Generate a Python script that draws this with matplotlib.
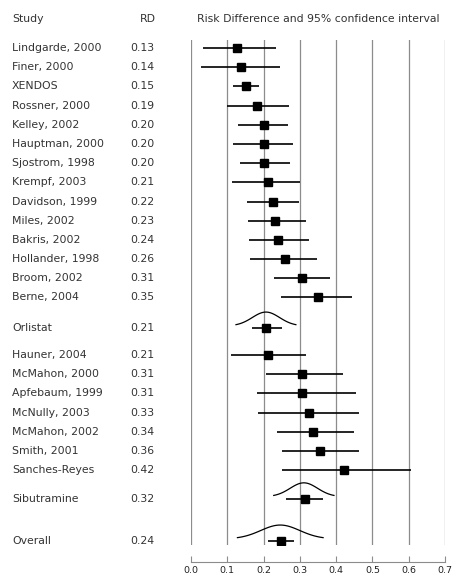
import matplotlib
matplotlib.use("Agg")
import matplotlib.pyplot as plt
import matplotlib.transforms as mtrans
import numpy as np

# orlistat trials
orl_names = ["Lindgarde, 2000", "Finer, 2000", "XENDOS", "Rossner, 2000", "Kelley, 2002",
             "Hauptman, 2000", "Sjostrom, 1998", "Krempf, 2003", "Davidson, 1999",
             "Miles, 2002", "Bakris, 2002", "Hollander, 1998", "Broom, 2002", "Berne, 2004"]
orl_rd = [0.128, 0.139, 0.151, 0.183, 0.201, 0.200, 0.200, 0.211, 0.225, 0.232, 0.239, 0.258, 0.307, 0.349]
orl_lo = [0.034, 0.028, 0.117, 0.100, 0.129, 0.117, 0.135, 0.112, 0.153, 0.156, 0.159, 0.162, 0.229, 0.248]
orl_hi = [0.233, 0.246, 0.188, 0.270, 0.268, 0.282, 0.272, 0.300, 0.297, 0.318, 0.326, 0.346, 0.383, 0.444]
orl_lab = ["0.13", "0.14", "0.15", "0.19", "0.20", "0.20", "0.20", "0.21", "0.22", "0.23", "0.24", "0.26", "0.31", "0.35"]

# sibutramine trials
sib_names = ["Hauner, 2004", "McMahon, 2000", "Apfebaum, 1999", "McNully, 2003",
             "McMahon, 2002", "Smith, 2001", "Sanches-Reyes"]
sib_rd = [0.211, 0.307, 0.306, 0.326, 0.335, 0.355, 0.421]
sib_lo = [0.109, 0.208, 0.181, 0.185, 0.238, 0.252, 0.252]
sib_hi = [0.318, 0.419, 0.456, 0.463, 0.449, 0.463, 0.607]
sib_lab = ["0.21", "0.31", "0.31", "0.33", "0.34", "0.36", "0.42"]

# pooled estimates (ci + extent of the distribution curve)
pool_names = ["Orlistat", "Sibutramine", "Overall"]
pool_rd = [0.208, 0.314, 0.248]
pool_lo = [0.167, 0.261, 0.211]
pool_hi = [0.250, 0.364, 0.283]
pool_clo = [0.124, 0.228, 0.128]
pool_chi = [0.289, 0.394, 0.364]
pool_lab = ["0.21", "0.32", "0.24"]

xticks = [0.0, 0.1, 0.2, 0.3, 0.4, 0.5, 0.6, 0.7]

# row layout
y_orl = list(range(len(orl_names)))
y_pool = [14.6, 23.5, 25.7]
y_sib = [16 + i for i in range(len(sib_names))]

txt = "#333333"
fs = 7.8

fig = plt.figure(figsize=(4.54, 5.75), dpi=100)
ax = fig.add_axes([191 / 454, 30 / 575, 254 / 454, 505 / 575])
ax.set_xlim(0, 0.7)
ax.set_ylim(25.9, -0.42)

for x in xticks:
    ax.axvline(x, color="#8c8c8c", lw=0.9, zorder=1)

names = orl_names + sib_names
rds = orl_rd + sib_rd
los = orl_lo + sib_lo
his = orl_hi + sib_hi
labs = orl_lab + sib_lab
ys = y_orl + y_sib

ax.hlines(ys, los, his, color="black", lw=1.2, zorder=2)
ax.plot(rds, ys, "ks", ms=5.6, zorder=3)

ax.hlines(y_pool, pool_lo, pool_hi, color="black", lw=1.2, zorder=2)
ax.plot(pool_rd, y_pool, "ks", ms=5.6, zorder=3)
for i in range(len(pool_names)):
    c = (pool_clo[i] + pool_chi[i]) / 2
    s = (pool_chi[i] - pool_clo[i]) / 4.4
    xc = np.linspace(pool_clo[i], pool_chi[i], 100)
    yc = y_pool[i] - 0.12 - 0.72 * np.exp(-0.5 * ((xc - c) / s) ** 2)
    ax.plot(xc, yc, color="black", lw=0.9, zorder=2)

tr = mtrans.blended_transform_factory(fig.transFigure, ax.transData)
for n, l, y in zip(names + pool_names, labs + pool_lab, ys + y_pool):
    ax.text(12 / 454, y, n, transform=tr, fontsize=fs, color=txt, va="center", ha="left")
    ax.text(130 / 454, y, l, transform=tr, fontsize=fs, color=txt, va="center", ha="left")

ax.text(12 / 454, -1.5, "Study", transform=tr, fontsize=fs, color=txt, va="center")
ax.text(140 / 454, -1.5, "RD", transform=tr, fontsize=fs, color=txt, va="center")
ax.text(318 / 454, -1.5, "Risk Difference and 95% confidence interval", transform=tr,
        fontsize=fs, color=txt, va="center", ha="center")

for s in ["top", "left", "right"]:
    ax.spines[s].set_visible(False)
ax.spines["bottom"].set_position(("outward", 12))
ax.spines["bottom"].set_color("#8c8c8c")
ax.set_yticks([])
ax.set_xticks(xticks)
ax.set_xticklabels(["%.1f" % x for x in xticks])
ax.tick_params(axis="x", direction="in", length=4, color="#8c8c8c", labelsize=6.8,
               labelcolor="#222222", pad=3)

fig.savefig("out.png", dpi=100)
